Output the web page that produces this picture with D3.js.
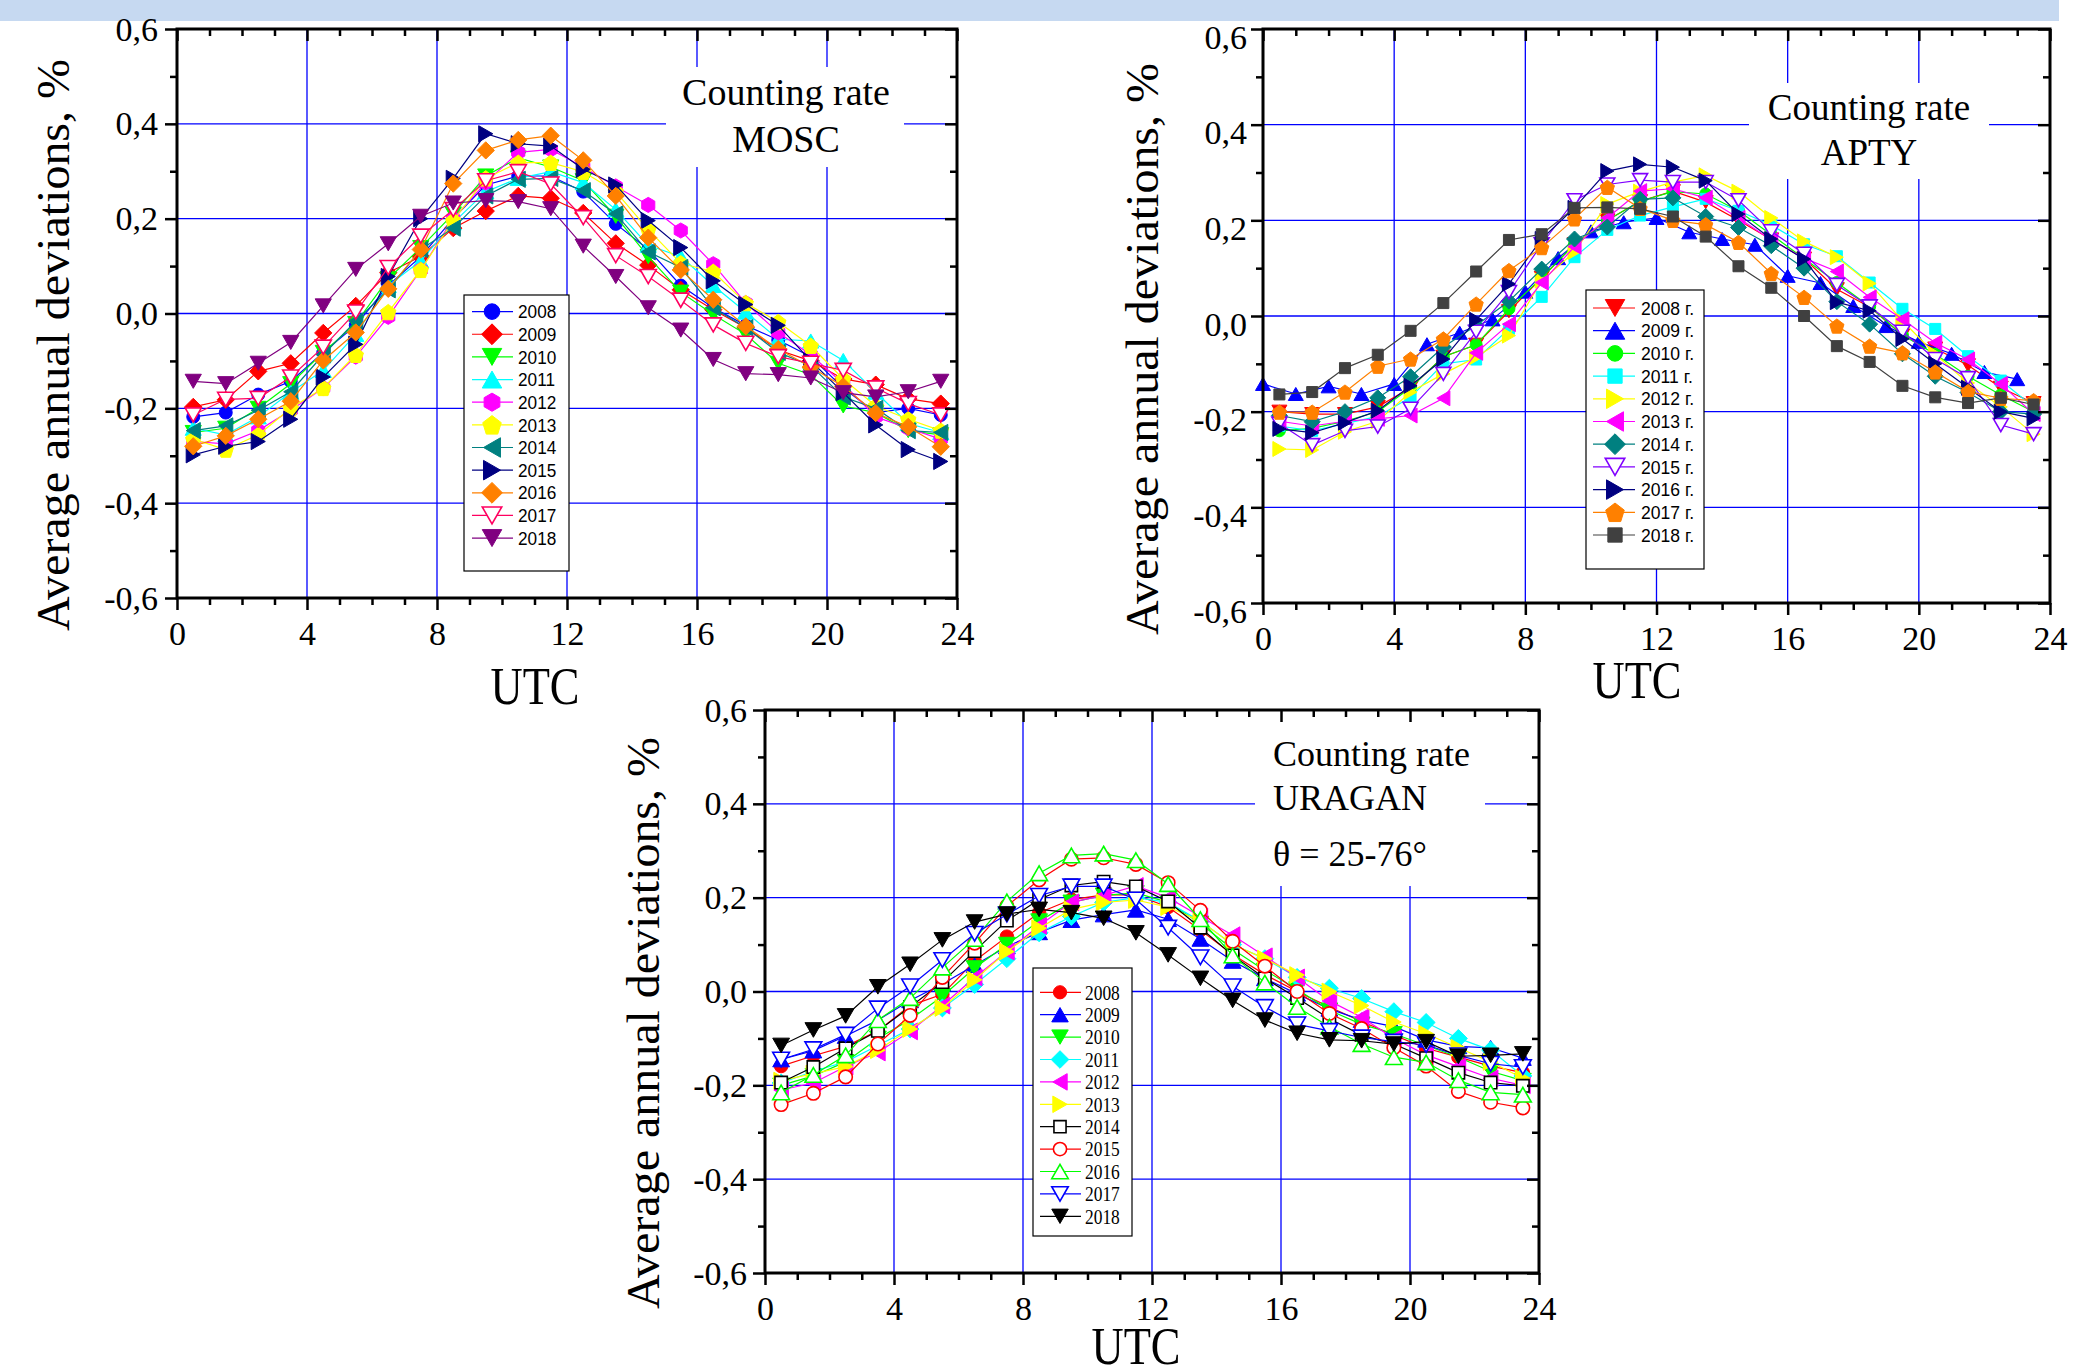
<!DOCTYPE html>
<html>
<head>
<meta charset="utf-8">
<script src="https://cdn.jsdelivr.net/npm/d3@7/dist/d3.min.js"></script>
<style>
    body { margin: 0; background: #fff; }
    svg { display: block; }
</style>
</head>
<body>
<svg id="chart"></svg>
<script>
//hours of the day (half-hour centred bins and whole hours)
var halfHours = [0.5, 1.5, 2.5, 3.5, 4.5, 5.5, 6.5, 7.5, 8.5, 9.5, 10.5, 11.5,
                 12.5, 13.5, 14.5, 15.5, 16.5, 17.5, 18.5, 19.5, 20.5, 21.5, 22.5, 23.5];
var wholeHours = [0, 1, 2, 3, 4, 5, 6, 7, 8, 9, 10, 11, 12, 13, 14, 15, 16, 17, 18, 19, 20, 21, 22, 23];
var years = ['2008', '2009', '2010', '2011', '2012', '2013', '2014', '2015', '2016', '2017', '2018'];

//axis ticks
var xTickValues = [0, 4, 8, 12, 16, 20, 24];
var xTickLabels = ['0', '4', '8', '12', '16', '20', '24'];
var yTickValues = [-0.6, -0.4, -0.2, 0, 0.2, 0.4, 0.6];
var yTickLabels = ['-0,6', '-0,4', '-0,2', '0,0', '0,2', '0,4', '0,6'];

//MOSC counting rate deviations, %
var mosc2008 = [-0.218,-0.209,-0.171,-0.143,-0.082,-0.025,0.059,0.120,0.200,0.271,0.290,0.290,0.257,0.189,0.135,0.059,0.012,-0.025,-0.056,-0.091,-0.157,-0.209,-0.200,-0.214];
var mosc2009 = [-0.197,-0.182,-0.122,-0.105,-0.041,0.016,0.086,0.120,0.180,0.216,0.248,0.243,0.212,0.148,0.102,0.050,0.008,-0.030,-0.077,-0.100,-0.138,-0.150,-0.180,-0.190];
var mosc2010 = [-0.251,-0.242,-0.200,-0.148,-0.082,-0.021,0.073,0.139,0.210,0.290,0.328,0.309,0.280,0.205,0.120,0.045,-0.002,-0.044,-0.105,-0.129,-0.195,-0.209,-0.247,-0.256];
var mosc2011 = [-0.242,-0.256,-0.218,-0.166,-0.120,-0.044,0.059,0.111,0.191,0.257,0.285,0.299,0.276,0.219,0.144,0.120,0.059,0.003,-0.054,-0.058,-0.099,-0.166,-0.232,-0.251];
var mosc2012 = [-0.270,-0.275,-0.247,-0.204,-0.157,-0.091,-0.007,0.092,0.200,0.276,0.340,0.346,0.309,0.268,0.229,0.175,0.104,0.022,-0.040,-0.087,-0.148,-0.218,-0.242,-0.265];
var mosc2013 = [-0.265,-0.287,-0.256,-0.200,-0.157,-0.087,0.003,0.092,0.196,0.285,0.318,0.318,0.299,0.257,0.177,0.106,0.088,0.022,-0.018,-0.068,-0.138,-0.195,-0.223,-0.247];
var mosc2014 = [-0.247,-0.237,-0.204,-0.165,-0.087,-0.016,0.050,0.135,0.180,0.248,0.283,0.285,0.259,0.210,0.130,0.097,0.012,-0.030,-0.082,-0.110,-0.176,-0.200,-0.247,-0.251];
var mosc2015 = [-0.298,-0.280,-0.270,-0.223,-0.134,-0.065,0.078,0.200,0.285,0.379,0.358,0.353,0.304,0.271,0.196,0.139,0.069,0.019,-0.025,-0.100,-0.167,-0.235,-0.287,-0.312];
var mosc2016 = [-0.280,-0.258,-0.223,-0.185,-0.099,-0.040,0.052,0.135,0.274,0.344,0.366,0.375,0.323,0.248,0.160,0.092,0.029,-0.027,-0.075,-0.113,-0.154,-0.210,-0.239,-0.281];
var mosc2017 = [-0.214,-0.181,-0.179,-0.134,-0.071,0.003,0.097,0.163,0.219,0.280,0.299,0.273,0.202,0.122,0.078,0.028,-0.024,-0.063,-0.091,-0.105,-0.120,-0.157,-0.190,-0.214];
var mosc2018 = [-0.143,-0.148,-0.105,-0.061,0.016,0.093,0.147,0.205,0.233,0.238,0.236,0.221,0.142,0.078,0.012,-0.035,-0.097,-0.127,-0.129,-0.136,-0.167,-0.176,-0.165,-0.143];

//APTY counting rate deviations, % (2009 is given at whole hours)
var apty2008 = [-0.200,-0.205,-0.205,-0.190,-0.150,-0.085,-0.060,0.010,0.080,0.150,0.200,0.240,0.261,0.238,0.200,0.160,0.120,0.056,0.019,-0.040,-0.068,-0.103,-0.150,-0.182];
var apty2009 = [-0.142,-0.163,-0.147,-0.163,-0.142,-0.059,-0.035,-0.007,0.051,0.121,0.177,0.196,0.205,0.175,0.161,0.149,0.084,0.069,0.021,-0.021,-0.054,-0.079,-0.117,-0.132];
var apty2010 = [-0.240,-0.235,-0.220,-0.200,-0.150,-0.085,-0.060,0.015,0.080,0.150,0.200,0.240,0.260,0.255,0.220,0.170,0.120,0.070,0.020,-0.040,-0.080,-0.126,-0.165,-0.200];
var apty2011 = [-0.230,-0.240,-0.225,-0.210,-0.170,-0.100,-0.091,-0.027,0.040,0.123,0.180,0.210,0.228,0.245,0.220,0.190,0.150,0.125,0.070,0.015,-0.027,-0.084,-0.135,-0.190];
var apty2012 = [-0.278,-0.280,-0.242,-0.220,-0.159,-0.121,-0.086,-0.041,0.074,0.134,0.234,0.260,0.280,0.294,0.260,0.205,0.156,0.123,0.068,-0.010,-0.080,-0.140,-0.190,-0.247];
var apty2013 = [-0.220,-0.230,-0.220,-0.215,-0.208,-0.172,-0.077,-0.017,0.070,0.145,0.205,0.261,0.266,0.247,0.205,0.159,0.121,0.093,0.039,-0.007,-0.056,-0.091,-0.142,-0.205];
var apty2014 = [-0.208,-0.221,-0.200,-0.171,-0.127,-0.065,-0.020,0.031,0.098,0.161,0.186,0.244,0.247,0.208,0.185,0.147,0.100,0.030,-0.017,-0.079,-0.126,-0.160,-0.200,-0.205];
var apty2015 = [-0.225,-0.270,-0.240,-0.231,-0.194,-0.121,-0.033,0.050,0.150,0.242,0.275,0.284,0.280,0.280,0.242,0.177,0.130,0.065,0.020,-0.033,-0.090,-0.130,-0.228,-0.247];
var apty2016 = [-0.236,-0.244,-0.223,-0.198,-0.146,-0.090,-0.008,0.067,0.161,0.226,0.303,0.317,0.311,0.283,0.213,0.161,0.119,0.029,0.011,-0.048,-0.100,-0.150,-0.200,-0.214];
var apty2017 = [-0.201,-0.201,-0.159,-0.105,-0.090,-0.048,0.025,0.095,0.143,0.203,0.269,0.225,0.200,0.191,0.154,0.089,0.039,-0.021,-0.063,-0.077,-0.117,-0.158,-0.172,-0.177];
var apty2018 = [-0.164,-0.159,-0.109,-0.081,-0.031,0.027,0.093,0.159,0.171,0.226,0.227,0.224,0.208,0.166,0.104,0.059,0.000,-0.063,-0.096,-0.146,-0.170,-0.182,-0.171,-0.185];

//URAGAN counting rate deviations, %
var uragan2008 = [-0.159,-0.137,-0.117,-0.084,-0.030,-0.006,0.065,0.117,0.168,0.196,0.206,0.206,0.180,0.131,0.079,0.036,0.000,-0.033,-0.064,-0.093,-0.121,-0.140,-0.159,-0.173];
var uragan2009 = [-0.145,-0.126,-0.095,-0.061,-0.019,0.016,0.056,0.096,0.126,0.152,0.164,0.174,0.154,0.112,0.065,0.028,-0.005,-0.037,-0.061,-0.075,-0.103,-0.117,-0.120,-0.142];
var uragan2010 = [-0.200,-0.180,-0.150,-0.100,-0.060,-0.010,0.050,0.100,0.150,0.190,0.205,0.210,0.190,0.145,0.090,0.045,0.005,-0.040,-0.070,-0.090,-0.115,-0.140,-0.170,-0.190];
var uragan2011 = [-0.195,-0.170,-0.150,-0.115,-0.080,-0.035,0.015,0.070,0.125,0.160,0.190,0.200,0.190,0.150,0.100,0.070,0.030,0.007,-0.015,-0.043,-0.066,-0.100,-0.125,-0.180];
var uragan2012 = [-0.210,-0.195,-0.160,-0.130,-0.085,-0.030,0.030,0.085,0.140,0.190,0.205,0.225,0.200,0.160,0.120,0.075,0.030,-0.020,-0.055,-0.100,-0.135,-0.160,-0.185,-0.200];
var uragan2013 = [-0.190,-0.175,-0.160,-0.125,-0.080,-0.035,0.025,0.085,0.135,0.175,0.190,0.195,0.180,0.150,0.100,0.070,0.035,0.000,-0.030,-0.065,-0.090,-0.120,-0.150,-0.185];
var uragan2014 = [-0.194,-0.161,-0.121,-0.084,-0.033,0.020,0.086,0.151,0.196,0.226,0.234,0.224,0.192,0.136,0.077,0.028,-0.014,-0.058,-0.093,-0.112,-0.142,-0.173,-0.194,-0.201];
var uragan2015 = [-0.241,-0.217,-0.182,-0.112,-0.051,0.030,0.103,0.182,0.238,0.282,0.285,0.271,0.232,0.173,0.107,0.054,0.000,-0.047,-0.079,-0.120,-0.159,-0.213,-0.236,-0.248];
var uragan2016 = [-0.215,-0.178,-0.136,-0.061,-0.014,0.051,0.112,0.192,0.252,0.290,0.294,0.280,0.229,0.154,0.077,0.019,-0.033,-0.075,-0.112,-0.140,-0.151,-0.189,-0.215,-0.220];
var uragan2017 = [-0.145,-0.123,-0.092,-0.036,0.011,0.067,0.123,0.164,0.204,0.224,0.224,0.196,0.136,0.073,0.011,-0.033,-0.070,-0.084,-0.098,-0.107,-0.114,-0.136,-0.154,-0.161];
var uragan2018 = [-0.115,-0.082,-0.052,0.010,0.058,0.110,0.148,0.165,0.175,0.168,0.156,0.125,0.078,0.028,-0.019,-0.061,-0.089,-0.103,-0.105,-0.112,-0.107,-0.138,-0.136,-0.133];

//series grouped by station
var moscData = [mosc2008, mosc2009, mosc2010, mosc2011, mosc2012, mosc2013, mosc2014, mosc2015, mosc2016, mosc2017, mosc2018];
var aptyData = [apty2008, apty2009, apty2010, apty2011, apty2012, apty2013, apty2014, apty2015, apty2016, apty2017, apty2018];
var uraganData = [uragan2008, uragan2009, uragan2010, uragan2011, uragan2012, uragan2013, uragan2014, uragan2015, uragan2016, uragan2017, uragan2018];

//marker styles
var moscStyles = [
    {color: '#0000ff', shape: 'circle'},
    {color: '#ff0000', shape: 'diamond'},
    {color: '#00ff00', shape: 'down'},
    {color: '#00ffff', shape: 'up'},
    {color: '#ff00ff', shape: 'hexagon'},
    {color: '#ffff00', shape: 'pentagon'},
    {color: '#008080', shape: 'left'},
    {color: '#000080', shape: 'right'},
    {color: '#ff8000', shape: 'diamond'},
    {color: '#ff0060', shape: 'down', open: true},
    {color: '#800080', shape: 'down'}
];
var aptyStyles = [
    {color: '#ff0000', shape: 'down'},
    {color: '#0000ff', shape: 'up'},
    {color: '#00ff00', shape: 'circle'},
    {color: '#00ffff', shape: 'square'},
    {color: '#ffff00', shape: 'right'},
    {color: '#ff00ff', shape: 'left'},
    {color: '#008080', shape: 'diamond'},
    {color: '#8000ff', shape: 'down', open: true},
    {color: '#000080', shape: 'right'},
    {color: '#ff8000', shape: 'pentagon'},
    {color: '#404040', shape: 'square'}
];
var uraganStyles = [
    {color: '#ff0000', shape: 'circle'},
    {color: '#0000ff', shape: 'up'},
    {color: '#00ff00', shape: 'down'},
    {color: '#00ffff', shape: 'diamond'},
    {color: '#ff00ff', shape: 'left'},
    {color: '#ffff00', shape: 'right'},
    {color: '#000000', shape: 'square', open: true},
    {color: '#ff0000', shape: 'circle', open: true},
    {color: '#00ff00', shape: 'up', open: true},
    {color: '#0000ff', shape: 'down', open: true},
    {color: '#000000', shape: 'down'}
];

var serif = "'Liberation Serif', 'Times New Roman', serif",
    sans = "'Liberation Sans', Arial, sans-serif";

//chart parameters
var svg = d3.select('#chart')
    .attr('width', 2091)
    .attr('height', 1368);

//top banner
svg.append('rect')
    .attr('x', 0).attr('y', 0)
    .attr('width', 2059).attr('height', 21)
    .style('fill', '#c6d9f1');

//marker widths by shape
var markerWidth = {circle: 12, square: 11, diamond: 16, up: 15, down: 15, left: 15, right: 15, pentagon: 15, hexagon: 14};

//marker path centred on 0,0
function markerPath(shape, w) {
    var r = w / 2, h = w * 0.87, pts;
    if (shape === 'circle') {
        return 'M' + (-r) + ',0A' + r + ',' + r + ' 0 1,0 ' + r + ',0A' + r + ',' + r + ' 0 1,0 ' + (-r) + ',0Z';
    }
    if (shape === 'square') pts = [[-r, -r], [r, -r], [r, r], [-r, r]];
    if (shape === 'diamond') pts = [[0, -r], [r, 0], [0, r], [-r, 0]];
    if (shape === 'up') pts = [[0, -h / 2], [r, h / 2], [-r, h / 2]];
    if (shape === 'down') pts = [[-r, -h / 2], [r, -h / 2], [0, h / 2]];
    if (shape === 'left') pts = [[-h / 2, 0], [h / 2, -r], [h / 2, r]];
    if (shape === 'right') pts = [[h / 2, 0], [-h / 2, -r], [-h / 2, r]];
    if (shape === 'pentagon') pts = d3.range(5).map(k => [r * Math.cos(-Math.PI / 2 + k * 2 * Math.PI / 5), r * 1.05 * Math.sin(-Math.PI / 2 + k * 2 * Math.PI / 5) + r * 0.1]);
    if (shape === 'hexagon') pts = d3.range(6).map(k => [r * Math.cos(-Math.PI / 2 + k * Math.PI / 3), r * Math.sin(-Math.PI / 2 + k * Math.PI / 3)]);
    return 'M' + pts.map(p => p[0].toFixed(2) + ',' + p[1].toFixed(2)).join('L') + 'Z';
}

//append a marker
function drawMarker(g, style, x, y, factor) {
    g.append('path')
        .attr('d', markerPath(style.shape, markerWidth[style.shape] * factor))
        .attr('transform', 'translate(' + x + ',' + y + ')')
        .style('fill', style.open ? '#ffffff' : style.color)
        .style('stroke', style.color)
        .style('stroke-width', style.open ? 1.6 : 1);
}

//append text, optionally squeezed horizontally
function addText(g, x, y, str, size, family, anchor, sx) {
    return g.append('text')
        .attr('transform', 'translate(' + x + ',' + y + ') scale(' + sx + ',1)')
        .attr('text-anchor', anchor)
        .style('font-family', family)
        .style('font-size', size + 'px')
        .style('fill', '#000')
        .text(str);
}

//draw one panel
function drawPanel(p) {
    var canvas = svg.append('g').attr('class', 'panel');

    //define scales
    var xScale = d3.scaleLinear().domain([0, 24]).range([p.left, p.right]),
        yScale = d3.scaleLinear().domain([-0.6, 0.6]).range([p.bottom, p.top]);

    //gridlines
    var grid = canvas.append('g').attr('class', 'grid');
    [4, 8, 12, 16, 20].forEach(v => {
        grid.append('line')
            .attr('x1', xScale(v)).attr('x2', xScale(v))
            .attr('y1', p.gridTop).attr('y2', p.bottom)
            .style('stroke', '#0000ff').style('stroke-width', 1.3);
    });
    [-0.4, -0.2, 0, 0.2, 0.4].forEach(v => {
        grid.append('line')
            .attr('x1', p.left).attr('x2', p.right)
            .attr('y1', yScale(v)).attr('y2', yScale(v))
            .style('stroke', '#0000ff').style('stroke-width', 1.3);
    });

    //white box under the caption
    canvas.append('rect')
        .attr('x', p.note.x0).attr('y', p.note.y0)
        .attr('width', p.note.x1 - p.note.x0).attr('height', p.note.y1 - p.note.y0)
        .style('fill', '#fff');

    //series lines and markers
    var line = d3.line().x(d => xScale(d[0])).y(d => yScale(d[1]));
    p.data.forEach((values, i) => {
        var style = p.styles[i],
            hours = p.hours[i],
            pts = values.map((v, j) => [hours[j], v]);
        var sg = canvas.append('g').attr('class', 'series');
        sg.append('path')
            .attr('d', line(pts))
            .style('fill', 'none')
            .style('stroke', style.color)
            .style('stroke-width', 1.2);
        pts.forEach(d => drawMarker(sg, style, xScale(d[0]), yScale(d[1]), p.markerFactor));
    });

    //legend
    var lg = p.legend;
    var legend = canvas.append('g').attr('class', 'legend');
    legend.append('rect')
        .attr('x', lg.x0).attr('y', lg.y0)
        .attr('width', lg.x1 - lg.x0).attr('height', lg.y1 - lg.y0)
        .style('fill', '#fff').style('stroke', '#000').style('stroke-width', 1.2);
    years.forEach((yr, i) => {
        var y = lg.first + i * lg.step, style = p.styles[i];
        legend.append('line')
            .attr('x1', lg.lineX0).attr('x2', lg.lineX1)
            .attr('y1', y).attr('y2', y)
            .style('stroke', style.color).style('stroke-width', 1.2);
        drawMarker(legend, style, lg.markX, y, lg.markFactor);
        addText(legend, lg.textX, y + lg.size * 0.36, yr + lg.suffix, lg.size, lg.family, 'start', lg.sx);
    });

    //axes: minor ticks
    var minorX = wholeHours.filter(h => h % 4 !== 0),
        minorY = [-0.5, -0.3, -0.1, 0.1, 0.3, 0.5];
    var axes = canvas.append('g').attr('class', 'axes');
    axes.append('g').attr('transform', 'translate(0,' + p.bottom + ')')
        .call(d3.axisBottom(xScale).tickValues(minorX).tickSize(7).tickSizeOuter(0).tickFormat(''));
    axes.append('g').attr('transform', 'translate(0,' + p.top + ')')
        .call(d3.axisTop(xScale).tickValues(minorX).tickSize(-7).tickSizeOuter(0).tickFormat(''));
    axes.append('g').attr('transform', 'translate(' + p.left + ',0)')
        .call(d3.axisLeft(yScale).tickValues(minorY).tickSize(7).tickSizeOuter(0).tickFormat(''));
    axes.append('g').attr('transform', 'translate(' + p.right + ',0)')
        .call(d3.axisRight(yScale).tickValues(minorY).tickSize(-7).tickSizeOuter(0).tickFormat(''));

    //axes: major ticks with labels
    axes.append('g').attr('class', 'axis-x').attr('transform', 'translate(0,' + p.bottom + ')')
        .call(d3.axisBottom(xScale).tickValues(xTickValues).tickSize(12).tickSizeOuter(0).tickPadding(11)
            .tickFormat((d, i) => xTickLabels[i]));
    axes.append('g').attr('transform', 'translate(0,' + p.top + ')')
        .call(d3.axisTop(xScale).tickValues(xTickValues).tickSize(-12).tickSizeOuter(0).tickFormat(''));
    axes.append('g').attr('class', 'axis-y').attr('transform', 'translate(' + p.left + ',0)')
        .call(d3.axisLeft(yScale).tickValues(yTickValues).tickSize(12).tickSizeOuter(0).tickPadding(p.yPad)
            .tickFormat((d, i) => yTickLabels[i]));
    axes.append('g').attr('transform', 'translate(' + p.right + ',0)')
        .call(d3.axisRight(yScale).tickValues(yTickValues).tickSize(-12).tickSizeOuter(0).tickFormat(''));

    axes.selectAll('.domain').remove();
    axes.selectAll('.tick line').style('stroke', '#000').style('stroke-width', 2.5);
    axes.selectAll('text')
        .style('font-family', serif)
        .style('font-size', '34px')
        .style('fill', '#000');
    axes.select('.axis-y').selectAll('text').attr('dy', p.yLabelDy + 'px');

    //frame
    canvas.append('rect')
        .attr('x', p.left).attr('y', p.top)
        .attr('width', p.right - p.left).attr('height', p.bottom - p.top)
        .style('fill', 'none').style('stroke', '#000').style('stroke-width', 3);

    //axis titles
    canvas.append('text')
        .attr('transform', 'translate(' + p.yTitle[0] + ',' + p.yTitle[1] + ') scale(0.95,1) rotate(-90)')
        .attr('text-anchor', 'middle')
        .style('font-family', serif)
        .style('font-size', '48px')
        .text('Average annual deviations, %');
    addText(canvas, p.xTitle[0], p.xTitle[1], 'UTC', 53, serif, 'middle', 0.84);

    //caption
    p.note.lines.forEach(l => addText(canvas, l[0], l[1], l[2], p.note.size, serif, p.note.anchor, 1));
}

var moscHours = years.map(() => halfHours),
    aptyHours = years.map((y, i) => i === 1 ? wholeHours : halfHours),
    uraganHours = years.map(() => halfHours);

//MOSC
drawPanel({
    left: 177, right: 957, top: 29, bottom: 598, gridTop: 29,
    yPad: 7, yLabelDy: 11,
    data: moscData, hours: moscHours, styles: moscStyles, markerFactor: 1.08,
    legend: {x0: 464, x1: 569, y0: 295, y1: 571, first: 311.6, step: 22.65,
             lineX0: 472, lineX1: 513, markX: 492, markFactor: 1.3,
             textX: 518, size: 18.5, family: sans, sx: 0.93, suffix: ''},
    note: {x0: 666, x1: 904, y0: 67, y1: 167, size: 38, anchor: 'middle',
           lines: [[786, 105, 'Counting rate'], [786, 152, 'MOSC']]},
    yTitle: [69, 345], xTitle: [535, 704]
});

//APTY
drawPanel({
    left: 1263, right: 2050, top: 29, bottom: 603, gridTop: 29,
    yPad: 4, yLabelDy: 19,
    data: aptyData, hours: aptyHours, styles: aptyStyles, markerFactor: 1,
    legend: {x0: 1586, x1: 1704, y0: 290, y1: 569, first: 308, step: 22.7,
             lineX0: 1593, lineX1: 1635, markX: 1615, markFactor: 1.3,
             textX: 1641, size: 18.5, family: sans, sx: 0.95, suffix: ' г.'},
    note: {x0: 1749, x1: 1989, y0: 83, y1: 179, size: 37, anchor: 'middle',
           lines: [[1869, 120, 'Counting rate'], [1869, 165, 'APTY']]},
    yTitle: [1158, 349], xTitle: [1637, 698]
});

//URAGAN
drawPanel({
    left: 765, right: 1539, top: 710, bottom: 1273, gridTop: 722,
    yPad: 6, yLabelDy: 11,
    data: uraganData, hours: uraganHours, styles: uraganStyles, markerFactor: 1.12,
    legend: {x0: 1033, x1: 1132, y0: 968, y1: 1236, first: 992.3, step: 22.4,
             lineX0: 1040, lineX1: 1081, markX: 1060, markFactor: 1.1,
             textX: 1085, size: 20, family: serif, sx: 0.87, suffix: ''},
    note: {x0: 1255, x1: 1485, y0: 711, y1: 886, size: 36, anchor: 'start',
           lines: [[1273, 766, 'Counting rate'], [1273, 810, 'URAGAN'], [1273, 866, 'θ = 25-76°']]},
    yTitle: [659, 1023], xTitle: [1136, 1364]
});
</script>
</body>
</html>
